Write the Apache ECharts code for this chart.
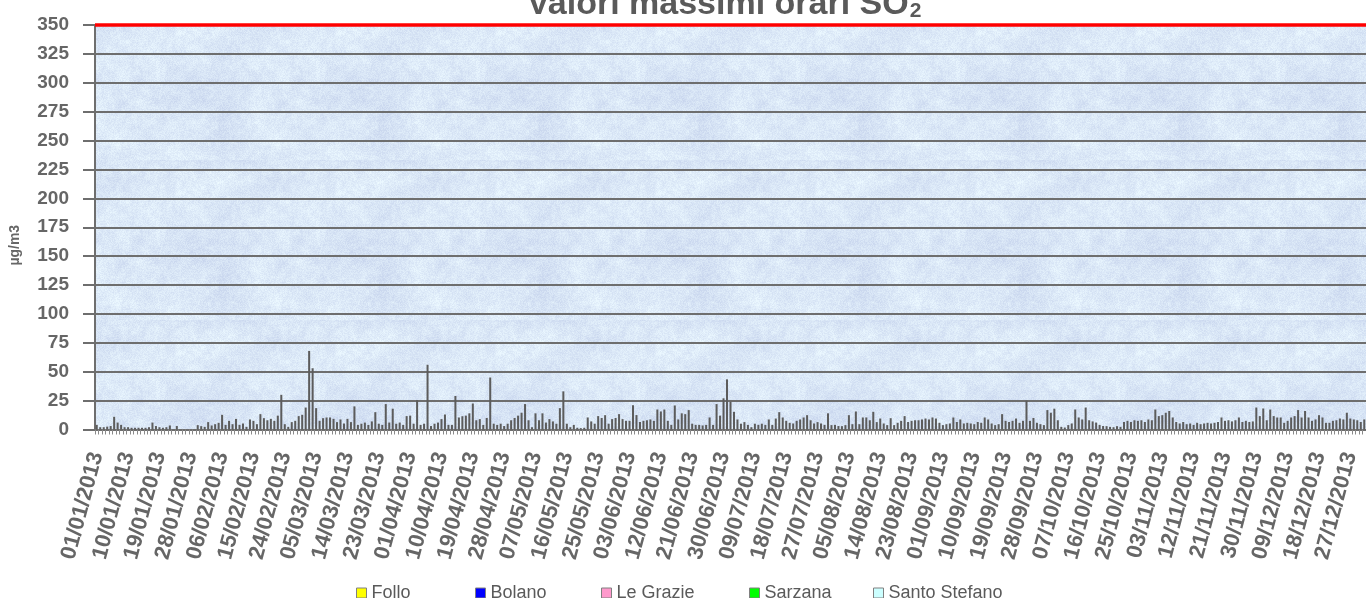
<!DOCTYPE html>
<html>
<head>
<meta charset="utf-8">
<script src="https://cdn.jsdelivr.net/npm/echarts@6/dist/echarts.min.js"></script>
<style>
  html, body { margin: 0; padding: 0; background: #ffffff; }
  #chart { width: 1366px; height: 598px; }
</style>
</head>
<body>
<div id="chart"></div>
<script>
// Daily maximum hourly SO2 (µg/m3), 2013, one array per month (null = no data)
const jan = [4, 2, 2, 2.5, 3, 11, 6, 4, 2, 2, 1.5, 1.5, 1.5, 1.5, 1.5, 2, 6, 3, 2, 1.5, 2, 3.5, null, 3, null, null, null, null, null, 3.8, 2.9];
const feb = [2.3, 6.4, 3.5, 4.6, 5.8, 12.7, 4, 7.5, 4.6, 9.2, 4, 5.2, 2.3, 8.7, 7.5, 4.6, 13.3, 9.8, 8, 9.2, 7.5, 12, 30, 4.6, 2.3, 6.4, 7.5, 11.6];
const mar = [12.7, 19, 68, 53, 18.5, 7.5, 9.8, 10.4, 10.4, 9.2, 6.4, 8.7, 5.2, 9.2, 6.4, 20, 4, 5, 6, 4, 7, 15, 5, 4, 22, 6, 18, 5, 6, 4, 11.6];
const apr = [12, 5, 25.4, 4, 5, 56, 3, 5, 6, 9, 13, 4, 4, 29, 10.4, 11.5, 12, 14, 22.5, 8, 9, 4, 10, 45, 5, 4, 5, 3, 5, 8];
const may = [10, 12, 14.5, 22, 8, 2, 14, 8, 14, 6, 9, 7, 5, 18.5, 33, 5, 2, 4, 1.5, 1.2, 1.5, 10.4, 7, 5, 11.6, 10, 12.4, 5, 9, 10, 13.3];
const jun = [9, 7.5, 7.5, 21, 12.5, 6.5, 7.5, 8, 8.7, 7.5, 17.3, 15.6, 17.3, 7.5, 4, 20.8, 8.7, 14, 13.3, 16.8, 5, 4, 4, 3.5, 4, 10.4, 4, 22, 12, 27];
const jul = [43.4, 24, 15.3, 8.7, 5, 6.4, 4, 2, 5, 4, 5, 4, 8.7, 4, 9.5, 15, 10.4, 7.5, 5.8, 5.2, 7.5, 8.7, 10.4, 12.4, 8, 5.2, 6.4, 5.2, 4, 14, 3.8];
const aug = [4, 3, 2.9, 3.8, 12.4, 4.6, 15.6, 4.6, 10.4, 10.4, 8, 15.3, 6.4, 9.5, 5.2, 3.8, 9.8, 3.8, 5.8, 7.5, 11.6, 6.5, 7.5, 8, 8, 8.7, 9.5, 8.7, 10.4, 9.5, 5.8];
const sep = [3.8, 4.6, 5.2, 10.4, 6.5, 8.7, 5.2, 5.8, 5.2, 4.6, 6.5, 5.8, 10.4, 8.7, 5.2, 3.8, 4.6, 13.3, 7.5, 6.5, 7.5, 9.5, 5.8, 7.5, 25, 7.5, 10, 5.8, 4.6, 3.8];
const oct = [16.8, 14.5, 18, 8, 2.3, 1.7, 3.8, 5.2, 17.3, 10.4, 8.7, 19, 8, 7, 6, 4, 3, 2.9, 2.3, 2, 2.9, 2.3, 6.5, 7.5, 6.5, 8, 7.5, 8, 6.5, 8.7, 8];
const nov = [17.3, 11.6, 12.4, 14.5, 16, 10.4, 6.5, 5.2, 6.5, 4.6, 5.2, 4, 5.8, 4.6, 5.2, 5.8, 5.2, 5.8, 6.5, 10.4, 7.5, 8, 7, 8, 10.4, 6.5, 7.5, 6.5, 7, 19];
const dec = [11.6, 18.2, 8, 17.3, 11.6, 10.4, 10.4, 5.8, 7.5, 10.4, 11.6, 16.8, 10.4, 16, 10.4, 7.5, 8.7, 12.4, 10.4, 5.8, 5.8, 7.5, 8, 9.5, 8.7, 14.5, 9.5, 8.7, 8, 6.5, 8.7];

// Monitoring stations shown in the legend
const stations = ['Follo', 'Bolano', 'Le Grazie', 'Sarzana', 'Santo Stefano'];
const stationColors = ['#ffff00', '#0000ff', '#ff99cc', '#00ff00', '#ccffff'];
const legendLeft = [356, 475, 601, 749, 873];

// Hourly limit value
const limitValue = 350;

// Y axis range
const yMin = 0, yMax = 350, yStep = 25;

// Day labels dd/mm/yyyy for every day of 2013
const year = 2013;
const days = [];
for (let t = Date.UTC(year, 0, 1); t < Date.UTC(year + 1, 0, 1); t += 86400000) {
  const d = new Date(t);
  const dd = String(d.getUTCDate()).padStart(2, '0');
  const mm = String(d.getUTCMonth() + 1).padStart(2, '0');
  days.push(dd + '/' + mm + '/' + year);
}
const dailyMax = [].concat(jan, feb, mar, apr, may, jun, jul, aug, sep, oct, nov, dec);

// Light mottled blue fill for the plot area (deterministic hash noise)
function paperTexture() {
  const n = 160;
  const c = document.createElement('canvas');
  c.width = n; c.height = n;
  const g = c.getContext('2d');
  const img = g.createImageData(n, n);
  function hash(x, y) {
    let h = (x * 374761393 + y * 668265263) | 0;
    h = (h ^ (h >>> 13)) * 1274126177 | 0;
    return ((h ^ (h >>> 16)) >>> 0) / 4294967295;
  }
  function smooth(x, y, s) {
    const gx = Math.floor(x / s), gy = Math.floor(y / s);
    const fx = x / s - gx, fy = y / s - gy;
    const a = hash(gx, gy), b = hash(gx + 1, gy), c2 = hash(gx, gy + 1), d = hash(gx + 1, gy + 1);
    const top = a + (b - a) * fx, bot = c2 + (d - c2) * fx;
    return top + (bot - top) * fy;
  }
  for (let y = 0; y < n; y++) {
    for (let x = 0; x < n; x++) {
      const big = smooth(x, y, 20) - 0.5;
      const mid = smooth(x + 7, y + 3, 5) - 0.5;
      const fine = hash(x, y) - 0.5;
      const k = big * 16 + mid * 12 + fine * 16;
      const i = (y * n + x) * 4;
      img.data[i] = Math.max(0, Math.min(255, 219 + k));
      img.data[i + 1] = Math.max(0, Math.min(255, 232 + k));
      img.data[i + 2] = Math.max(0, Math.min(255, 247 + k * 0.5));
      img.data[i + 3] = 255;
    }
  }
  g.putImageData(img, 0, 0);
  return c;
}

const FONT = "'Liberation Sans', Arial, sans-serif";
const GREY = '#666666';
const LINE = '#6e6e6e';

const series = stations.map((name, i) => ({
  name: name,
  type: 'bar',
  stack: 'day',
  data: [],
  itemStyle: { color: stationColors[i], borderColor: '#7a7a7a', borderWidth: 1 }
}));
series.push({
  name: 'max',
  type: 'bar',
  stack: 'day',
  data: dailyMax,
  barWidth: '58%',
  itemStyle: { color: '#5c5c5c' },
  silent: true,
  markLine: {
    silent: true,
    symbol: 'none',
    label: { show: false },
    lineStyle: { color: '#ff0000', width: 3.5, type: 'solid' },
    data: [{ yAxis: limitValue }],
    z: 10
  }
});

const legends = stations.map((name, i) => ({
  data: [name],
  left: legendLeft[i],
  top: 584,
  padding: 0,
  itemWidth: 10,
  itemHeight: 10,
  icon: 'rect',
  itemStyle: { borderColor: '#808080', borderWidth: 1 },
  textStyle: { color: '#5a5a5a', fontSize: 18, fontFamily: FONT },
  selectedMode: false
}));

const chart = echarts.init(document.getElementById('chart'), null, { renderer: 'canvas' });
chart.setOption({
  animation: false,
  backgroundColor: '#ffffff',
  title: {
    text: '{a|Valori massimi orari SO}{s|2}',
    left: 527,
    top: -12,
    padding: 0,
    textStyle: {
      rich: {
        a: { fontSize: 34, fontWeight: 'bold', color: '#5a5a5a', fontFamily: FONT },
        s: { fontSize: 21, fontWeight: 'bold', color: '#5a5a5a', fontFamily: FONT, padding: [12, 0, 0, 1] }
      }
    }
  },
  legend: legends,
  grid: {
    left: 95, right: 0, top: 25, bottom: 168.5,
    outerBoundsMode: 'none',
    containLabel: false,
    show: true,
    borderWidth: 0,
    backgroundColor: { image: paperTexture(), repeat: 'repeat' }
  },
  xAxis: {
    type: 'category',
    data: days,
    boundaryGap: true,
    axisLine: { lineStyle: { color: LINE, width: 2 } },
    axisTick: { show: true, interval: 0, length: 5, lineStyle: { color: '#8a8a8a', width: 1 } },
    axisLabel: {
      interval: 8,
      rotate: 75,
      margin: 23,
      color: GREY,
      fontSize: 22,
      fontWeight: 'bold',
      fontFamily: FONT
    },
    splitLine: { show: false }
  },
  yAxis: {
    type: 'value',
    min: yMin, max: yMax, interval: yStep,
    name: 'µg/m3',
    nameLocation: 'middle',
    nameGap: 73,
    nameRotate: 90,
    nameTextStyle: { color: GREY, fontSize: 14, fontWeight: 'bold', fontFamily: FONT, padding: [0, 36, 0, 0] },
    axisLine: { show: true, lineStyle: { color: LINE, width: 2 } },
    axisTick: { show: true, length: 12, lineStyle: { color: LINE, width: 2 } },
    axisLabel: { color: GREY, fontSize: 19, fontWeight: 'bold', fontFamily: FONT, margin: 26 },
    splitLine: { show: true, lineStyle: { color: LINE, width: 2 } }
  },
  series: series
});
</script>
</body>
</html>
